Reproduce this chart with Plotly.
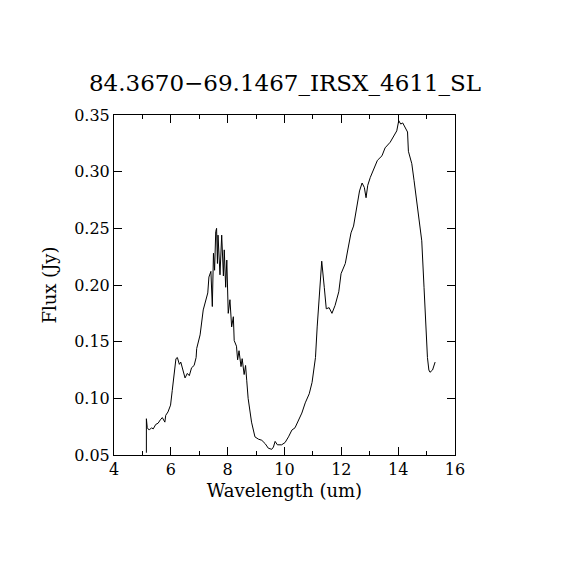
import plotly.graph_objects as go

wavelength = [5.14, 5.14, 5.17, 5.24, 5.32, 5.38, 5.47, 5.55, 5.63, 5.70, 5.79, 5.82, 5.90, 5.99,
              6.05, 6.11, 6.18, 6.23, 6.30, 6.35, 6.42, 6.50, 6.58, 6.65, 6.73, 6.82, 6.89, 6.91,
              7.03, 7.14, 7.30, 7.34, 7.41, 7.46, 7.50, 7.54, 7.58, 7.61, 7.64, 7.66, 7.73, 7.79,
              7.85, 7.88, 7.93, 7.97, 8.02, 8.08, 8.14, 8.20, 8.23, 8.31, 8.35, 8.40, 8.47, 8.51,
              8.58, 8.63, 8.67, 8.72, 8.84, 8.96, 9.08, 9.20, 9.32, 9.43, 9.55, 9.61, 9.67, 9.75,
              9.90, 10.02, 10.14, 10.26, 10.37, 10.49, 10.61, 10.73, 10.87, 10.97, 11.09, 11.15,
              11.24, 11.31, 11.40, 11.47, 11.57, 11.67, 11.78, 11.91, 11.99, 12.14, 12.22, 12.34,
              12.43, 12.55, 12.64, 12.73, 12.81, 12.87, 12.93, 13.02, 13.13, 13.27, 13.43, 13.54,
              13.72, 13.89, 13.95, 14.02, 14.09, 14.16, 14.25, 14.33, 14.36, 14.48, 14.56, 14.65,
              14.75, 14.83, 14.91, 14.98, 15.03, 15.08, 15.12, 15.21, 15.30]

flux = [0.052, 0.082, 0.074, 0.072, 0.074, 0.073, 0.077, 0.078, 0.081, 0.083, 0.079, 0.085, 0.088, 0.094,
        0.107, 0.122, 0.135, 0.136, 0.130, 0.132, 0.125, 0.118, 0.122, 0.120, 0.127, 0.129, 0.136, 0.144,
        0.156, 0.178, 0.193, 0.207, 0.212, 0.181, 0.228, 0.213, 0.247, 0.250, 0.219, 0.244, 0.209, 0.244,
        0.208, 0.231, 0.198, 0.222, 0.175, 0.187, 0.163, 0.172, 0.151, 0.146, 0.134, 0.142, 0.128, 0.135,
        0.121, 0.129, 0.116, 0.100, 0.079, 0.066, 0.064, 0.063, 0.060, 0.056, 0.055, 0.057, 0.062, 0.059,
        0.059, 0.061, 0.066, 0.072, 0.074, 0.080, 0.087, 0.096, 0.104, 0.114, 0.136, 0.163,
        0.198, 0.221, 0.198, 0.179, 0.180, 0.175, 0.182, 0.194, 0.210, 0.219, 0.230, 0.246,
        0.252, 0.268, 0.283, 0.290, 0.286, 0.277, 0.288, 0.295, 0.302, 0.310, 0.314, 0.321,
        0.326, 0.333, 0.336, 0.345, 0.342, 0.343, 0.339, 0.335, 0.318, 0.307, 0.292, 0.274,
        0.258, 0.239, 0.198, 0.163, 0.136, 0.125, 0.123, 0.125, 0.132]

x_ticks = [4, 6, 8, 10, 12, 14, 16]
y_ticks = [0.05, 0.10, 0.15, 0.20, 0.25, 0.30, 0.35]

font = "DejaVu Serif"

fig = go.Figure(go.Scatter(x=wavelength, y=flux, mode="lines",
                           line=dict(color="black", width=1)))

axis_style = dict(showline=True, linecolor="black", linewidth=1, mirror="ticks",
                  ticks="inside", ticklen=8, tickcolor="black", tickwidth=1,
                  showgrid=False, zeroline=False,
                  tickfont=dict(family=font, size=16, color="black"))

fig.update_xaxes(range=[4, 16], tickvals=x_ticks, ticktext=[str(t) for t in x_ticks],
                 minor=dict(dtick=1, ticks="inside", ticklen=4, tickcolor="black"),
                 title=dict(text="Wavelength (um)", font=dict(family=font, size=18, color="black"),
                            standoff=6),
                 **axis_style)
fig.update_yaxes(range=[0.05, 0.35], tickvals=y_ticks, ticktext=[f"{t:.2f}" for t in y_ticks],
                 title=dict(text="Flux (Jy)", font=dict(family=font, size=18, color="black"),
                            standoff=12),
                 **axis_style)

# page body has an 8px margin, so the margins are shifted to land the frame at 114..455
fig.update_layout(
    width=570, height=570,
    margin=dict(l=106, r=123, t=107, b=123),
    paper_bgcolor="white", plot_bgcolor="white",
    showlegend=False,
    title=dict(text="84.3670\u221269.1467_IRSX_4611_SL", x=0.486, xanchor="center",
               y=1 - 75 / 570, yanchor="middle", yref="container",
               font=dict(family=font, size=23, color="black")),
)

fig.write_html("out.html")
